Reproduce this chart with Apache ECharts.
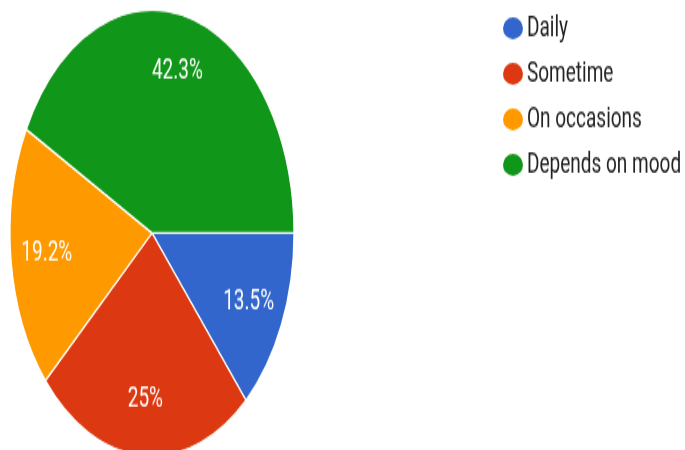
<!DOCTYPE html>
<html>
<head>
<meta charset="utf-8">
<script src="https://cdn.jsdelivr.net/npm/echarts@6/dist/echarts.min.js"></script>
<style>
  html, body { margin: 0; padding: 0; background: #fff; overflow: hidden; }
  #wrap { width: 685px; height: 450px; overflow: hidden; position: relative; }
  /* chart is drawn on a shorter canvas and stretched vertically */
  #chart { width: 685px; height: 287px; transform: scaleY(1.57); transform-origin: 0 0; }
</style>
</head>
<body>
<div id="wrap"><div id="chart"></div></div>
<script>
const categories = ['Daily', 'Sometime', 'On occasions', 'Depends on mood'];
const shares = [13.5, 25, 19.2, 42.3];
const colors = ['#3366cc', '#dc3912', '#ff9900', '#109618'];

const data = categories.map((name, i) => ({ name, value: shares[i] }));

const chart = echarts.init(document.getElementById('chart'), null, { renderer: 'canvas' });
chart.setOption({
  animation: false,
  color: colors,
  legend: {
    orient: 'vertical',
    left: 496,
    top: 3,
    itemWidth: 22,
    itemHeight: 16,
    itemGap: 9,
    icon: 'path://M0,7 A10,7 0 1,1 20,7 A10,7 0 1,1 0,7 Z',
    symbolKeepAspect: false,
    data: categories,
    textStyle: { fontFamily: 'Roboto', fontSize: 19, color: '#222', lineHeight: 20, padding: [0, 0, 0, -2] },
    selectedMode: false
  },
  series: [
    {
      type: 'pie',
      center: [152, 148.4],
      radius: [0, 142],
      startAngle: 0,
      clockwise: true,
      silent: true,
      label: { show: false },
      labelLine: { show: false },
      itemStyle: { borderColor: '#fff', borderWidth: 1.2 },
      data: data
    },
    {
      // transparent ring that carries the percentage labels
      type: 'pie',
      center: [152, 148.4],
      radius: [64, 142],
      startAngle: 0,
      clockwise: true,
      silent: true,
      legendHoverLink: false,
      itemStyle: { color: 'rgba(0,0,0,0)', borderWidth: 0 },
      label: {
        show: true,
        position: 'inside',
        formatter: p => p.value + '%',
        color: '#fff',
        fontFamily: 'Roboto',
        fontSize: 19
      },
      labelLine: { show: false },
      data: data
    }
  ]
});
</script>
</body>
</html>
